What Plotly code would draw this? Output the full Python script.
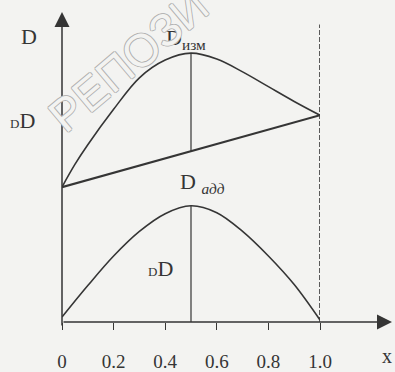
import plotly.graph_objects as go

# x positions (fraction of length) and D values
x_line = [0.0, 1.0]
d_line = [1.37, 2.10]

x_izm = [0.0, 0.05, 0.1, 0.2, 0.3, 0.4, 0.5, 0.6, 0.7, 0.8, 0.9, 1.0]
d_izm = [1.37, 1.60, 1.80, 2.16, 2.48, 2.66, 2.73, 2.67, 2.54, 2.39, 2.24, 2.10]

x_add = [0.0, 0.1, 0.2, 0.3, 0.4, 0.5, 0.6, 0.7, 0.8, 0.9, 1.0]
d_add = [0.05, 0.37, 0.67, 0.92, 1.10, 1.18, 1.11, 0.92, 0.67, 0.38, 0.02]

x_mid = 0.5
d_mid_line = 1.735
x_end = 1.0
d_end_top = 3.02

tick_vals = [0, 0.2, 0.4, 0.6, 0.8, 1.0]
tick_text = ["0", "0.2", "0.4", "0.6", "0.8", "1.0"]

ink = "#353535"
bg = "#f3f3f1"
serif = "Liberation Serif"

fig = go.Figure()

curve = dict(color=ink, width=1.6, shape="spline", smoothing=1)
fig.add_trace(go.Scatter(x=x_izm, y=d_izm, mode="lines", line=curve, cliponaxis=False))
fig.add_trace(go.Scatter(x=x_line, y=d_line, mode="lines", line=dict(color=ink, width=2.2), cliponaxis=False))
fig.add_trace(go.Scatter(x=x_add, y=d_add, mode="lines", line=curve, cliponaxis=False))

# vertical guide lines at the maximum
fig.add_trace(go.Scatter(x=[x_mid, x_mid], y=[d_mid_line, max(d_izm)], mode="lines", line=dict(color=ink, width=1.2), cliponaxis=False))
fig.add_trace(go.Scatter(x=[x_mid, x_mid], y=[0, max(d_add)], mode="lines", line=dict(color=ink, width=1.2), cliponaxis=False))
# dashed line at x = 1
fig.add_trace(go.Scatter(x=[x_end, x_end], y=[0, d_end_top], mode="lines", line=dict(color=ink, width=1.6, dash="5px,2px"), cliponaxis=False))

# axes with arrows
fig.add_annotation(x=0, y=0.963, xref="paper", yref="paper", ax=0, ay=315, axref="pixel", ayref="pixel",
                   showarrow=True, arrowhead=2, arrowsize=2, arrowwidth=1.5, arrowcolor=ink, text="")
fig.add_annotation(x=1.279, y=0, xref="paper", yref="paper", ax=-330, ay=0, axref="pixel", ayref="pixel",
                   showarrow=True, arrowhead=2, arrowsize=2, arrowwidth=1.5, arrowcolor=ink, text="")

lab = dict(family=serif, size=22, color=ink)
txt = dict(xref="paper", yref="paper", showarrow=False, xanchor="center", yanchor="middle")
fig.add_annotation(x=-0.128, y=0.887, text="D", font=lab, **txt)
fig.add_annotation(x=0.48, y=0.878, text="D<sub>изм</sub>", font=lab, **txt)
fig.add_annotation(x=0.543, y=0.431, text="D <sub><i>адд</i></sub>", font=lab, **txt)
fig.add_annotation(x=-0.155, y=0.627, text="<span style='font-size:13px'>D</span>D", font=lab, **txt)
fig.add_annotation(x=0.38, y=0.165, text="<span style='font-size:13px'>D</span>D", font=lab, **txt)
fig.add_annotation(x=1.26, y=-0.107, text="x", font=dict(family=serif, size=20, color=ink), **txt)

# faint watermark
fig.add_annotation(x=0.256, y=0.81, text="РЕПОЗИ", textangle=-40,
                   font=dict(family="Liberation Sans", size=46, color=bg,
                             shadow="1px 0 #b0b0b0, -1px 0 #b0b0b0, 0 1px #b0b0b0, 0 -1px #b0b0b0"), **txt)

fig.update_layout(
    width=395, height=372,
    margin=dict(l=62, r=75, t=0, b=45),
    paper_bgcolor=bg, plot_bgcolor=bg,
    showlegend=False,
    xaxis=dict(range=[0, 1], tickvals=tick_vals, ticktext=tick_text, showgrid=False, zeroline=False,
               showline=False, ticks="outside", ticklen=7, tickcolor=ink, tickwidth=1,
               ticklabelstandoff=15, tickfont=dict(family=serif, size=19, color=ink)),
    yaxis=dict(range=[0, 3.27], showgrid=False, zeroline=False, showline=False, showticklabels=False, ticks=""),
)

fig.write_html("out.html", config={"displayModeBar": False},
               post_script="document.body.style.margin='0px';")
